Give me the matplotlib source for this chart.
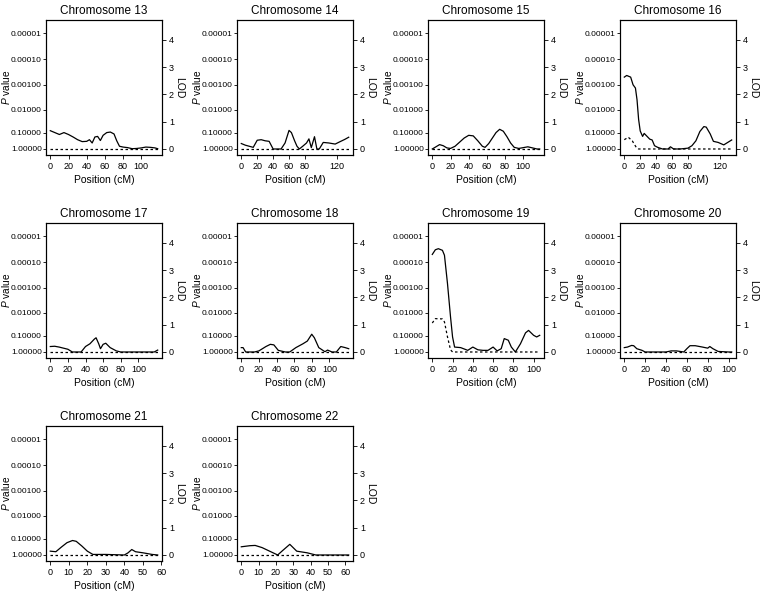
import math
import matplotlib
matplotlib.use("Agg")
import matplotlib.pyplot as plt

plt.rcParams['font.family'] = 'Liberation Sans'
plt.rcParams['mathtext.fontset'] = 'custom'
plt.rcParams['mathtext.rm'] = 'Liberation Sans'
plt.rcParams['mathtext.it'] = 'Liberation Sans:italic'

# LOD curves (solid = main, dotted = second)
pos13 = [0, 5, 10, 15, 20, 25, 30, 35, 40, 43, 46, 49, 52, 55, 58, 62, 66, 70, 73, 76, 80, 85, 90, 95, 100, 105, 110, 115, 118]
lod13 = [0.67, 0.6, 0.53, 0.6, 0.53, 0.44, 0.34, 0.27, 0.28, 0.34, 0.22, 0.44, 0.46, 0.31, 0.5, 0.6, 0.62, 0.55, 0.3, 0.1, 0.07, 0.05, 0.01, 0.02, 0.04, 0.07, 0.06, 0.04, 0.01]

pos14 = [0, 5, 10, 15, 20, 25, 30, 35, 40, 45, 50, 55, 60, 63, 67, 70, 73, 78, 82, 85, 88, 92, 95, 98, 103, 110, 118, 125, 130, 135]
lod14 = [0.2, 0.14, 0.1, 0.06, 0.32, 0.34, 0.3, 0.28, 0.0, 0.0, 0.0, 0.22, 0.68, 0.6, 0.3, 0.1, 0.0, 0.12, 0.22, 0.37, 0.05, 0.45, 0.0, 0.0, 0.24, 0.22, 0.18, 0.28, 0.35, 0.43]

pos15 = [0, 4, 8, 12, 16, 20, 25, 30, 35, 40, 45, 50, 55, 58, 62, 66, 70, 74, 78, 82, 86, 90, 95, 100, 105, 110, 115, 118]
lod15 = [0.0, 0.08, 0.16, 0.12, 0.04, 0.02, 0.1, 0.25, 0.4, 0.5, 0.48, 0.3, 0.1, 0.06, 0.2, 0.4, 0.6, 0.72, 0.65, 0.45, 0.22, 0.06, 0.02, 0.05, 0.08, 0.04, 0.0, 0.0]

pos16 = [0, 3, 8, 11, 14, 16, 18, 20, 23, 25, 28, 32, 35, 38, 42, 48, 55, 58, 62, 70, 80, 85, 90, 95, 100, 103, 108, 112, 118, 125, 130, 135]
lod16 = [2.63, 2.69, 2.63, 2.35, 2.23, 1.8, 1.08, 0.66, 0.46, 0.57, 0.48, 0.36, 0.33, 0.12, 0.06, 0.0, 0.0, 0.08, 0.0, 0.0, 0.03, 0.12, 0.3, 0.64, 0.82, 0.8, 0.55, 0.28, 0.24, 0.15, 0.24, 0.33]
dpos16 = [0, 5, 10, 15, 18, 135]
dlod16 = [0.34, 0.43, 0.3, 0.06, 0.0, 0.0]

pos17 = [0, 5, 10, 15, 20, 25, 30, 35, 40, 45, 50, 52, 55, 57, 60, 63, 68, 75, 80, 90, 100, 110, 118, 122]
lod17 = [0.2, 0.21, 0.18, 0.14, 0.1, 0.0, 0.0, 0.0, 0.2, 0.3, 0.47, 0.52, 0.3, 0.12, 0.28, 0.32, 0.16, 0.04, 0.0, 0.0, 0.0, 0.0, 0.0, 0.07]

pos18 = [0, 2, 5, 10, 15, 20, 24, 28, 33, 37, 42, 50, 55, 62, 70, 75, 80, 83, 88, 95, 98, 103, 108, 113, 118, 122]
lod18 = [0.16, 0.16, 0.0, 0.0, 0.0, 0.04, 0.12, 0.2, 0.28, 0.26, 0.06, 0.0, 0.0, 0.16, 0.3, 0.4, 0.65, 0.52, 0.16, 0.01, 0.07, 0.0, 0.0, 0.2, 0.16, 0.12]

pos19 = [0, 3, 6, 10, 12, 15, 18, 20, 22, 28, 35, 40, 45, 50, 55, 60, 64, 68, 71, 75, 78, 82, 87, 92, 95, 100, 103, 106]
lod19 = [3.57, 3.74, 3.78, 3.72, 3.54, 2.5, 1.28, 0.55, 0.18, 0.16, 0.06, 0.18, 0.08, 0.06, 0.06, 0.18, 0.04, 0.12, 0.49, 0.43, 0.18, 0.0, 0.3, 0.7, 0.79, 0.61, 0.55, 0.61]
dpos19 = [0, 3, 10, 12, 15, 18, 20, 106]
dlod19 = [1.06, 1.22, 1.21, 1.1, 0.55, 0.08, 0.0, 0.0]

pos20 = [0, 3, 7, 9, 12, 17, 20, 30, 40, 45, 50, 57, 60, 63, 68, 75, 80, 82, 85, 90, 100, 103]
lod20 = [0.16, 0.18, 0.24, 0.23, 0.12, 0.06, 0.0, 0.0, 0.0, 0.04, 0.04, 0.0, 0.12, 0.23, 0.23, 0.18, 0.14, 0.2, 0.12, 0.02, 0.0, 0.0]

pos21 = [0, 3, 6, 9, 12, 14, 17, 20, 23, 30, 40, 42, 44, 46, 50, 55, 58]
lod21 = [0.14, 0.12, 0.29, 0.45, 0.53, 0.5, 0.33, 0.14, 0.02, 0.02, 0.0, 0.08, 0.2, 0.12, 0.08, 0.02, 0.0]

pos22 = [0, 5, 8, 12, 17, 21, 24, 28, 32, 38, 43, 50, 62]
lod22 = [0.3, 0.34, 0.35, 0.27, 0.12, 0.0, 0.17, 0.39, 0.14, 0.08, 0.0, 0.0, 0.0]

ticks100 = [0, 20, 40, 60, 80, 100]
ticks120 = [0, 20, 40, 60, 80, 120]
ticks60 = [0, 10, 20, 30, 40, 50, 60]

p_ticks = [0.00001, 0.0001, 0.001, 0.01, 0.1, 1.0]
lod_ticks = [0, 1, 2, 3, 4]


def p_to_lod(p):
    # pointwise p value of chi-square (1 df) -> LOD
    if p >= 1:
        return 0.0
    lo, hi = 0.0, 10.0
    for _ in range(80):
        z = (lo + hi) / 2
        if math.erfc(z / math.sqrt(2)) > p:
            lo = z
        else:
            hi = z
    return z * z / (2 * math.log(10))


panels = [
    (13, pos13, lod13, None, None, ticks100),
    (14, pos14, lod14, None, None, ticks120),
    (15, pos15, lod15, None, None, ticks100),
    (16, pos16, lod16, dpos16, dlod16, ticks120),
    (17, pos17, lod17, None, None, ticks100),
    (18, pos18, lod18, None, None, ticks100),
    (19, pos19, lod19, dpos19, dlod19, ticks100),
    (20, pos20, lod20, None, None, ticks100),
    (21, pos21, lod21, None, None, ticks60),
    (22, pos22, lod22, None, None, ticks60),
]

W, H = 761, 591
fig = plt.figure(figsize=(W / 100, H / 100), dpi=100)

lefts = [46, 237, 428, 620]
tops = [20, 223, 426]
aw, ah = 116, 135

for i, (chrom, x, y, dx, dy, xt) in enumerate(panels):
    r, c = divmod(i, 4)
    ax = fig.add_axes([lefts[c] / W, 1 - (tops[r] + ah) / H, aw / W, ah / H])
    xmax = max(x)
    pad = 0.04 * xmax
    ax.plot(x, y, color='black', lw=0.9)
    if dx is None:
        dx, dy = [0, xmax], [0, 0]
    ax.plot(dx, dy, color='black', lw=0.9, linestyle=(0, (2, 2)))
    ax.set_xlim(-pad, xmax + pad)
    ax.set_ylim(-0.22, 4.72)
    ax.set_xticks(xt)
    ax.set_yticks([p_to_lod(p) for p in p_ticks])
    ax.set_yticklabels(['%.5f' % p for p in p_ticks])
    ax.tick_params(axis='y', length=2, pad=1, labelsize=6.0, width=0.6)
    ax.tick_params(axis='x', length=3, pad=2, labelsize=6.5, width=0.6)
    ax.set_title('Chromosome %d' % chrom, fontsize=8.5, pad=4)
    ax.set_xlabel('Position (cM)', fontsize=7.5, labelpad=3)
    ax.set_ylabel(r'$\it{P}$ value', fontsize=7.3, va='center')
    ax.yaxis.set_label_coords(-0.345, 0.5)
    for s in ax.spines.values():
        s.set_linewidth(0.8)
    ax2 = ax.twinx()
    ax2.set_ylim(ax.get_ylim())
    ax2.set_yticks(lod_ticks)
    ax2.tick_params(axis='y', length=3, pad=2, labelsize=6.5, width=0.6)
    ax2.set_ylabel('LOD', fontsize=7.5, rotation=270, va='center')
    ax2.yaxis.set_label_coords(1.15, 0.5)

fig.savefig('out.png', dpi=100)
